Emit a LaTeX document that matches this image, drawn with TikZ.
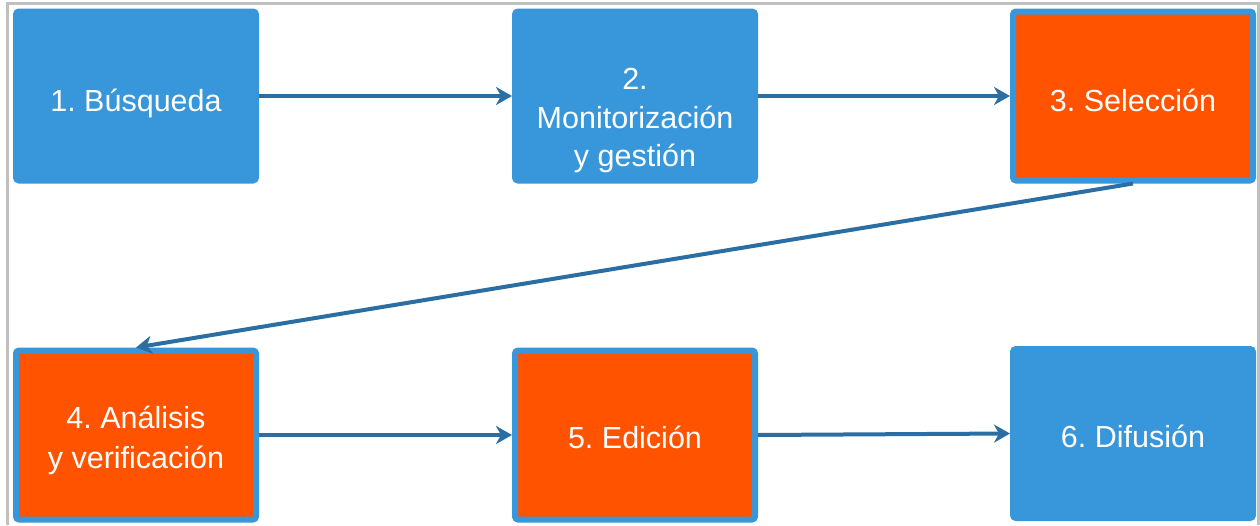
\documentclass[tikz,border=0pt]{standalone}
\usepackage{fontspec}
\setmainfont{Liberation Sans}
\usetikzlibrary{arrows.meta,calc}
\definecolor{boxblue}{RGB}{56,150,218}
\definecolor{boxorange}{RGB}{255,83,0}
\definecolor{arrowblue}{RGB}{43,110,163}
\definecolor{framegray}{RGB}{192,192,192}
\begin{document}
\frenchspacing
\begin{tikzpicture}[x=1pt,y=-1pt,
  stepbox/.style={rectangle, rounded corners=3pt, draw=boxblue, line width=6pt,
    minimum width=240pt, minimum height=169pt, inner sep=0pt},
  bluebox/.style={stepbox, fill=boxblue},
  orangebox/.style={stepbox, fill=boxorange},
  steptext/.style={align=center, inner sep=0pt, text=white,
    font=\fontsize{30.5}{38.5}\selectfont},
  flow/.style={draw=arrowblue, line width=4pt,
    -{Stealth[length=16pt, width=18pt, inset=5pt]}}]
\useasboundingbox (0,0) rectangle (1260,525);
% frame
\draw[framegray, line width=3.5pt] (7.5,525) -- (7.5,3.5) -- (1258.5,3.5) -- (1258.5,525);
% boxes
\node[bluebox]   (b1) at (136,96)    {};
\node[bluebox]   (b2) at (635,96)    {};
\node[orangebox] (b3) at (1133,96)   {};
\node[orangebox] (b4) at (136,435)   {};
\node[orangebox] (b5) at (635,435)   {};
\node[bluebox]   (b6) at (1133,433.5) {};
% texts
\node[steptext] (t1) at ($(b1.center)+(0,7)$)  {1. Búsqueda};
\node[steptext] (t2) at ($(b2.center)+(0,25)$) {2.\\Monitorización\\y gestión};
\node[steptext] (t3) at ($(b3.center)+(0,4)$)  {3. Selección};
\node[steptext, font=\fontsize{30.5}{40}\selectfont] (t4) at ($(b4.center)+(0,5)$) {4. Análisis\\y verificación};
\node[steptext] (t5) at ($(b5.center)+(0,2)$)  {5. Edición};
\node[steptext] (t6) at ($(b6.center)+(0,3)$)  {6. Difusión};
% connectors
\draw[flow] (b1.east) -- (b2.west);
\draw[flow] (b2.east) -- (b3.west);
\draw[flow] (b3.south) -- (b4.north);
\draw[flow] (b4.east) -- (b5.west);
\draw[flow] (b5.east) -- (b6.west);
\end{tikzpicture}
\end{document}
